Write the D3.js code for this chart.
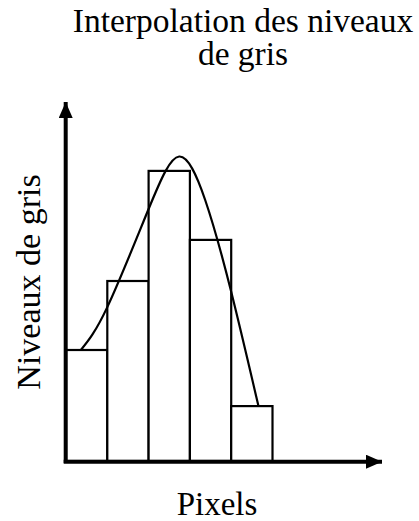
<!DOCTYPE html>
<html>
<head>
<meta charset="utf-8">
<script src="https://cdn.jsdelivr.net/npm/d3@7/dist/d3.min.js"></script>
<style>
  html, body { margin: 0; padding: 0; background: #fff; }
  svg { display: block; }
</style>
</head>
<body>
<svg id="chart" width="419" height="521"></svg>
<script>
// Grey level of each pixel (histogram bars)
const pixels = [0, 1, 2, 3, 4];
const greyLevels = [37, 60, 96.7, 73.7, 18.3];

// Interpolating curve drawn over the bars (pixel position, grey level)
const curveX = [0.36, 1.0, 2.0, 2.74, 3.37, 4.0, 4.66];
const curveY = [37, 51.3, 84, 101.5, 87, 56.4, 18.3];

const titleLines = ["Interpolation des niveaux", "de gris"];
const xLabel = "Pixels";
const yLabel = "Niveaux de gris";

const serif = '"Liberation Serif"';

const svg = d3.select("#chart");

const x = d3.scaleLinear().domain([0, 5]).range([66, 272.5]);
const y = d3.scaleLinear().domain([0, 100]).range([461, 161]);

// Axis extents (in data units) reaching out to the arrow tips
const xEnd = x.invert(382);
const yEnd = y.invert(102);

// Arrowheads
const defs = svg.append("defs");
defs.append("marker")
  .attr("id", "arrow")
  .attr("viewBox", "0 0 16 14")
  .attr("refX", 16).attr("refY", 7)
  .attr("markerUnits", "userSpaceOnUse")
  .attr("markerWidth", 16).attr("markerHeight", 14)
  .attr("orient", "auto")
  .append("path")
  .attr("d", "M0,0 L16,7 L0,14 Z")
  .attr("fill", "#000");

// Bars
svg.append("g")
  .selectAll("rect")
  .data(pixels)
  .join("rect")
  .attr("x", d => x(d))
  .attr("y", (d, i) => y(greyLevels[i]))
  .attr("width", d => x(d + 1) - x(d))
  .attr("height", (d, i) => y(0) - y(greyLevels[i]))
  .attr("fill", "#fff")
  .attr("stroke", "#000")
  .attr("stroke-width", 2.2);

// Interpolation curve
const line = d3.line()
  .x(d => x(d[0]))
  .y(d => y(d[1]))
  .curve(d3.curveNatural);

svg.append("path")
  .datum(curveX.map((v, i) => [v, curveY[i]]))
  .attr("d", line)
  .attr("fill", "none")
  .attr("stroke", "#000")
  .attr("stroke-width", 2.2);

// Axes with arrows
svg.append("line")
  .attr("x1", x(0) - 0.3).attr("y1", y(0) + 2)
  .attr("x2", x(0) - 0.3).attr("y2", y(yEnd))
  .attr("stroke", "#000").attr("stroke-width", 4)
  .attr("marker-end", "url(#arrow)");

svg.append("line")
  .attr("x1", x(0) - 2.3).attr("y1", y(0) + 0.7)
  .attr("x2", x(xEnd)).attr("y2", y(0) + 0.7)
  .attr("stroke", "#000").attr("stroke-width", 4)
  .attr("marker-end", "url(#arrow)");

// Title
svg.append("text")
  .style("font-family", serif)
  .attr("text-anchor", "middle")
  .attr("font-size", 33.5)
  .attr("fill", "#000")
  .selectAll("tspan")
  .data(titleLines)
  .join("tspan")
  .attr("x", 243)
  .attr("y", (d, i) => 32 + i * 33)
  .text(d => d);

// Axis titles
svg.append("text")
  .style("font-family", serif)
  .attr("text-anchor", "middle")
  .attr("font-size", 33)
  .attr("fill", "#000")
  .attr("x", 217).attr("y", 515)
  .text(xLabel);

svg.append("text")
  .style("font-family", serif)
  .attr("text-anchor", "middle")
  .attr("font-size", 34)
  .attr("fill", "#000")
  .attr("transform", "translate(40,282) rotate(-90)")
  .text(yLabel);
</script>
</body>
</html>
